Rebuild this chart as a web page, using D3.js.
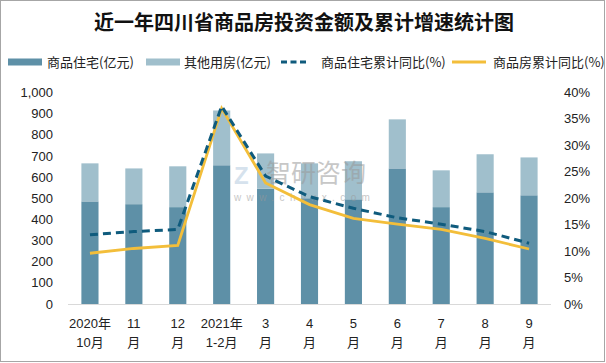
<!DOCTYPE html>
<html>
<head>
<meta charset="utf-8">
<script src="https://cdn.jsdelivr.net/npm/d3@7"></script>
<style>
  body { margin: 0; background: #fff; }
  svg { display: block; font-family: "Liberation Sans", "Noto Sans CJK SC", sans-serif; }
</style>
</head>
<body>
<div id="chart"></div>
<script>
const months = ["2020年\n10月", "11\n月", "12\n月", "2021年\n1-2月", "3\n月", "4\n月", "5\n月", "6\n月", "7\n月", "8\n月", "9\n月"];
const residential = [485, 472, 458, 656, 545, 500, 495, 641, 458, 528, 514]; // 亿元
const otherUse = [180, 169, 193, 259, 167, 165, 180, 232, 174, 180, 179];    // 亿元
const resYoY = [13.1, 13.7, 14.1, 37.4, 24.2, 20.3, 18.1, 16.3, 15.1, 13.7, 11.5];
const totalYoY = [9.6, 10.5, 11.1, 37.0, 22.9, 18.8, 16.2, 15.1, 14.1, 12.4, 10.4];
const leftTicks = [0, 100, 200, 300, 400, 500, 600, 700, 800, 900, 1000];
const rightTicks = [0, 0.05, 0.1, 0.15, 0.2, 0.25, 0.3, 0.35, 0.4];

const colors = { res: "#5e90a7", other: "#a0bfcc", dash: "#0f5b7d", gold: "#f3be3a" };
const W = 606, H = 363;

const svg = d3.select("#chart").append("svg").attr("width", W).attr("height", H);

// outer frame
svg.append("rect")
  .attr("x", 0.5).attr("y", 0.5).attr("width", 604).attr("height", 361)
  .attr("fill", "#fff").attr("stroke", "#a6a6a6");

// title
svg.append("text")
  .attr("x", 304).attr("y", 30)
  .attr("text-anchor", "middle")
  .style("font-family", "'Noto Sans CJK SC', sans-serif")
  .style("font-size", "20px").style("font-weight", 700).attr("fill", "#111")
  .text("近一年四川省商品房投资金额及累计增速统计图");

const x = d3.scaleBand().domain(months).range([68, 551]).paddingInner(0.61).paddingOuter(0.305);
const y = d3.scaleLinear().domain([0, 1000]).range([304, 92.5]);
const y2 = d3.scaleLinear().domain([0, 0.4]).range([304, 92.5]);

// bars
const stack = months.map((m, i) => ({ m, res: residential[i], other: otherUse[i] }));
svg.append("g").selectAll("rect").data(stack).join("rect")
  .attr("x", d => x(d.m)).attr("width", x.bandwidth())
  .attr("y", d => y(d.res)).attr("height", d => y(0) - y(d.res))
  .attr("fill", colors.res);
svg.append("g").selectAll("rect").data(stack).join("rect")
  .attr("x", d => x(d.m)).attr("width", x.bandwidth())
  .attr("y", d => y(d.res + d.other)).attr("height", d => y(d.res) - y(d.res + d.other))
  .attr("fill", colors.other);

// watermark
const wm = svg.append("g").attr("opacity", 0.55);
wm.append("text").attr("x", 266).attr("y", 182)
  .style("font-family", "'Noto Sans CJK SC', sans-serif").style("font-size", "25px")
  .attr("fill", "#9a9a9a").text("智研咨询");
wm.append("text").attr("x", 234).attr("y", 201)
  .style("font-size", "10px").attr("fill", "#9a9a9a").attr("letter-spacing", "5.4px")
  .text("www.chyxx.com");
wm.append("text").attr("x", 234).attr("y", 184)
  .style("font-size", "24px").style("font-weight", 700).attr("fill", "#b5cce0").text("Z");

// x axis line
svg.append("line").attr("x1", 68).attr("x2", 551).attr("y1", 304.5).attr("y2", 304.5)
  .attr("stroke", "#d9d9d9");

// lines
const lineGen = d3.line().x(d => x(d.m) + x.bandwidth() / 2).y(d => y2(d.v / 100));
svg.append("path")
  .datum(months.map((m, i) => ({ m, v: totalYoY[i] })))
  .attr("d", lineGen).attr("fill", "none")
  .attr("stroke", colors.gold).attr("stroke-width", 2.8);
svg.append("path")
  .datum(months.map((m, i) => ({ m, v: resYoY[i] })))
  .attr("d", lineGen).attr("fill", "none")
  .attr("stroke", colors.dash).attr("stroke-width", 3)
  .attr("stroke-dasharray", "8,5");

// left axis labels
svg.append("g").selectAll("text").data(leftTicks).join("text")
  .attr("x", 53).attr("y", d => y(d)).attr("dy", "0.35em")
  .attr("text-anchor", "end").style("font-size", "13px").attr("fill", "#222")
  .text(d3.format(","));

// right axis labels
svg.append("g").selectAll("text").data(rightTicks).join("text")
  .attr("x", 564).attr("y", d => y2(d)).attr("dy", "0.35em")
  .style("font-size", "13px").attr("fill", "#222")
  .text(d3.format(".0%"));

// x labels
const xl = svg.append("g").selectAll("text").data(months).join("text")
  .attr("x", d => x(d) + x.bandwidth() / 2)
  .attr("text-anchor", "middle")
  .style("font-size", "13px").attr("fill", "#222");
xl.selectAll("tspan").data(d => d.split("\n")).join("tspan")
  .attr("x", function () { return d3.select(this.parentNode).attr("x"); })
  .attr("y", (d, i) => 328 + i * 19)
  .text(d => d);

// legend
const legend = [
  { label: "商品住宅(亿元)", type: "bar", color: colors.res, x0: 8, tx: 47 },
  { label: "其他用房(亿元)", type: "bar", color: colors.other, x0: 146, tx: 184 },
  { label: "商品住宅累计同比(%)", type: "dash", color: colors.dash, x0: 281, tx: 321 },
  { label: "商品房累计同比(%)", type: "line", color: colors.gold, x0: 452, tx: 493 }
];
const lg = svg.append("g").selectAll("g").data(legend).join("g");
lg.append("line")
  .attr("x1", d => d.x0).attr("x2", d => d.x0 + (d.type === "dash" ? 25 : 34))
  .attr("y1", 62).attr("y2", 62)
  .attr("stroke", d => d.color)
  .attr("stroke-width", d => d.type === "bar" ? 7 : 3)
  .attr("stroke-dasharray", d => d.type === "dash" ? "6,3.5" : null);
lg.append("text")
  .attr("x", d => d.tx).attr("y", 62).attr("dy", "0.35em")
  .style("font-family", "'Noto Sans CJK SC', sans-serif")
  .style("font-size", "13px").attr("fill", "#222")
  .text(d => d.label);
</script>
</body>
</html>
